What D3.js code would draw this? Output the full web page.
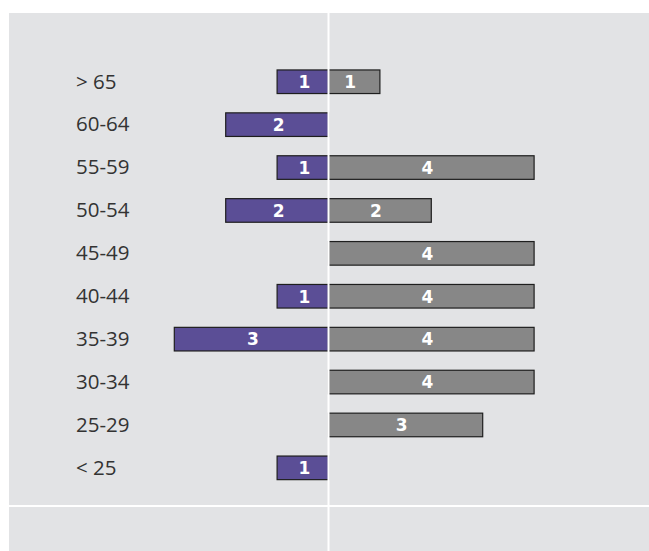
<!DOCTYPE html>
<html>
<head>
<meta charset="utf-8">
<script src="https://cdn.jsdelivr.net/npm/d3@7"></script>
<style>
  body { margin: 0; background: #fff; }
  svg { display: block; }
</style>
</head>
<body>
<div class="container"><svg width="649" height="551"></svg></div>
<script>
// age groups, top to bottom
var ages = ["> 65", "60-64", "55-59", "50-54", "45-49", "40-44", "35-39", "30-34", "25-29", "< 25"];
// left side (purple) and right side (gray) counts
var leftVals = [1, 2, 1, 2, 0, 1, 3, 0, 0, 1];
var rightVals = [1, 0, 4, 2, 4, 4, 4, 4, 3, 0];

function draw_chart() {
    var svg = d3.select(".container").select("svg");

    var x = d3.scaleLinear()
        .domain([-3, 4])
        .range([174.3, 534.1]);

    var y = d3.scaleBand()
        .domain(ages)
        .range([60.3, 489.3])
        .paddingInner(0.45)
        .paddingOuter(0.225);

    // gray panel
    svg.append("rect")
        .attr("x", 9)
        .attr("y", 13)
        .attr("width", 640)
        .attr("height", 538)
        .attr("fill", "#e2e3e5");

    // horizontal white rule near the bottom
    svg.append("line")
        .attr("x1", 9).attr("x2", 649)
        .attr("y1", 506).attr("y2", 506)
        .attr("stroke", "#fff")
        .attr("stroke-width", 2);

    var rows = ages.map(function (a, i) {
        return { age: a, left: leftVals[i], right: rightVals[i] };
    });

    // category labels
    svg.append("g")
        .selectAll("text")
        .data(rows)
        .enter().append("text")
        .attr("x", 76)
        .attr("y", function (d) { return y(d.age) + y.bandwidth() / 2; })
        .attr("dy", "0.33em")
        .attr("font-family", "'Open Sans', sans-serif")
        .attr("font-size", 20.5)
        .attr("fill", "#333")
        .text(function (d) { return d.age; });

    // left bars
    var lrows = rows.filter(function (d) { return d.left > 0; });
    svg.append("g")
        .selectAll("rect")
        .data(lrows)
        .enter().append("rect")
        .attr("x", function (d) { return x(-d.left); })
        .attr("y", function (d) { return y(d.age); })
        .attr("width", function (d) { return x(0) - x(-d.left); })
        .attr("height", y.bandwidth())
        .attr("fill", "#5b4e96")
        .attr("stroke", "#1e1e1e")
        .attr("stroke-width", 1.2);

    // right bars
    var rrows = rows.filter(function (d) { return d.right > 0; });
    svg.append("g")
        .selectAll("rect")
        .data(rrows)
        .enter().append("rect")
        .attr("x", x(0))
        .attr("y", function (d) { return y(d.age); })
        .attr("width", function (d) { return x(d.right) - x(0); })
        .attr("height", y.bandwidth())
        .attr("fill", "#878787")
        .attr("stroke", "#1e1e1e")
        .attr("stroke-width", 1.2);

    // vertical white rule at zero, drawn over the bars
    svg.append("line")
        .attr("x1", x(0)).attr("x2", x(0))
        .attr("y1", 13).attr("y2", 551)
        .attr("stroke", "#fff")
        .attr("stroke-width", 2);

    // value labels
    svg.append("g")
        .selectAll("text")
        .data(lrows)
        .enter().append("text")
        .attr("x", function (d) { return (x(-d.left) + x(0)) / 2 + 1.5; })
        .attr("y", function (d) { return y(d.age) + y.bandwidth() / 2; })
        .attr("dy", "0.37em")
        .attr("text-anchor", "middle")
        .attr("font-family", "'DejaVu Sans', sans-serif")
        .attr("font-weight", "bold")
        .attr("font-size", 17)
        .attr("fill", "#fff")
        .text(function (d) { return d.left; });

    svg.append("g")
        .selectAll("text")
        .data(rrows)
        .enter().append("text")
        .attr("x", function (d) { return (x(0) + x(d.right)) / 2 - 4; })
        .attr("y", function (d) { return y(d.age) + y.bandwidth() / 2; })
        .attr("dy", "0.37em")
        .attr("text-anchor", "middle")
        .attr("font-family", "'DejaVu Sans', sans-serif")
        .attr("font-weight", "bold")
        .attr("font-size", 17)
        .attr("fill", "#fff")
        .text(function (d) { return d.right; });
}

draw_chart();
</script>
</body>
</html>
